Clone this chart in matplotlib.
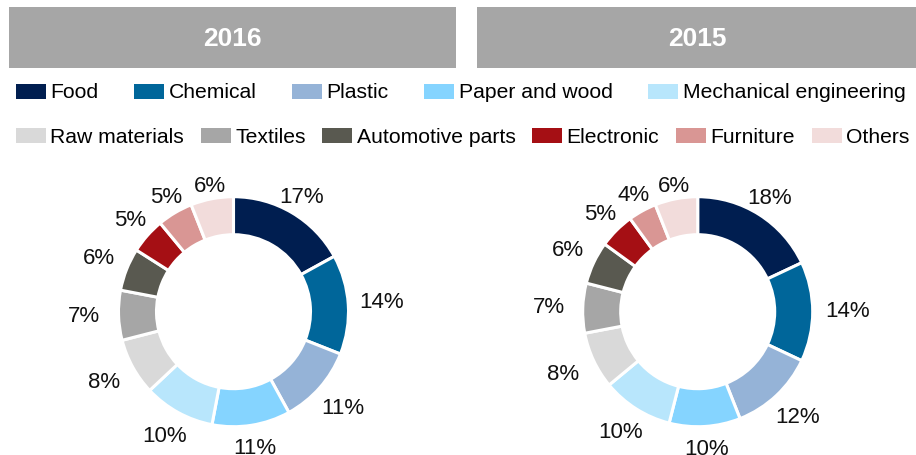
import matplotlib
matplotlib.use('Agg')
import matplotlib.pyplot as plt
from matplotlib.patches import Rectangle, Patch
import numpy as np

categories = ['Food', 'Chemical', 'Plastic', 'Paper and wood', 'Mechanical engineering',
              'Raw materials', 'Textiles', 'Automotive parts', 'Electronic', 'Furniture', 'Others']
values_2016 = [17, 14, 11, 11, 10, 8, 7, 6, 5, 5, 6]
values_2015 = [18, 14, 12, 10, 10, 8, 7, 6, 5, 4, 6]
years = ['2016', '2015']
colors = ['#001E50', '#00669A', '#95B3D7', '#85D4FF', '#B8E6FC',
          '#D9D9D9', '#A6A6A6', '#595950', '#A50F14', '#D99694', '#F2DCDB']

plt.rcParams['font.family'] = ['Liberation Sans', 'DejaVu Sans']

W, H = 916, 455
fig = plt.figure(figsize=(W / 100, H / 100), dpi=100)
ax = fig.add_axes([0, 0, 1, 1])

R = 115
ring = 38
cy = H - 311.7
centers = [233.5, 697.7]

for vals, cx in zip([values_2016, values_2015], centers):
    ax.pie(vals, colors=colors, startangle=90, counterclock=False, radius=R,
           center=(cx, cy), frame=True,
           wedgeprops=dict(width=ring, edgecolor='white', linewidth=2.2))
    total = sum(vals)
    cum = 0
    for v in vals:
        mid = np.deg2rad(90 - (cum + v / 2) / total * 360)
        cum += v
        c, s = np.cos(mid), np.sin(mid)
        r = R * (1.19 + 0.11 * abs(c) - 0.104 * max(s, 0))
        ax.text(cx + r * c, cy + r * s, f'{v}%', ha='center', va='center',
                fontsize=16, color='#111111')

# header bars
bars = [(9, 456), (477, 916)]
for (x0, x1), yr in zip(bars, years):
    ax.add_patch(Rectangle((x0, H - 68), x1 - x0, 61, facecolor='#A6A6A6',
                           edgecolor='none'))
    ax.text((x0 + x1) / 2 + (0 if yr == '2016' else 1), H - 39, yr, ha='center',
            va='center', fontsize=19, fontweight='bold', color='white')

ax.set_xlim(0, W)
ax.set_ylim(0, H)
ax.set_aspect('equal')
ax.axis('off')

handles = [Patch(facecolor=c, edgecolor='none') for c in colors]
fs = 15.2
common = dict(frameon=False, fontsize=fs, handlelength=30 / (fs * 100 / 72),
              handleheight=15 / (fs * 100 / 72),
              handletextpad=0.2, borderpad=0, borderaxespad=0, loc='center left')
leg1 = fig.legend(handles[:5], categories[:5], ncol=5, columnspacing=1.7,
                  bbox_to_anchor=(16 / W, 1 - 93 / H), **common)
leg2 = fig.legend(handles[5:], categories[5:], ncol=6, columnspacing=0.8,
                  bbox_to_anchor=(16 / W, 1 - 137.5 / H), **common)

fig.savefig('out.png', dpi=100)
